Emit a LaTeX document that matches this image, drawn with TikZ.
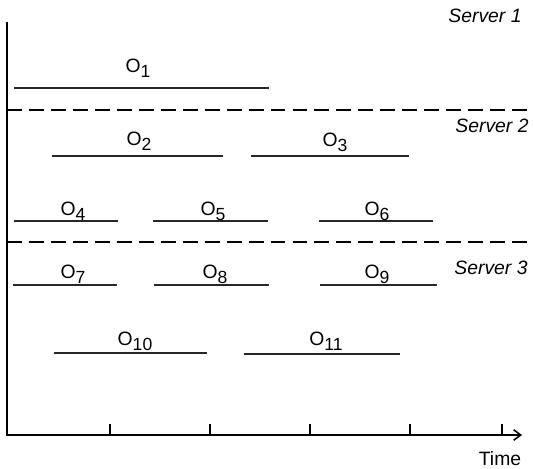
\documentclass[tikz,border=0pt]{standalone}
\usepackage{fontspec}
\setmainfont{Liberation Sans}
\usetikzlibrary{arrows.meta}

% operation label with its index set low
\newcommand{\opname}[1]{O\raisebox{-0.5ex}{\fontsize{10}{11}\selectfont#1}}

\begin{document}
\begin{tikzpicture}[
    x=0.02cm, y=-0.02cm,
    job/.style={line width=0.8pt, black!85},
    jobname/.style={anchor=base, inner sep=0pt, font=\fontsize{11}{13}\selectfont},
    server/.style={inner sep=0pt, font=\fontsize{11}{13}\selectfont\itshape},
    divider/.style={line width=0.7pt, dash pattern=on 8.5pt off 4pt},
    axis/.style={line width=0.9pt}
]
    \useasboundingbox (0,0) rectangle (533,468);

    % Axes
    \coordinate (origin) at (7,435);
    \coordinate (top) at (7,22);
    \coordinate (tend) at (522,435);
    \draw[axis, -{Straight Barb[length=4pt,width=6pt]}] (top) |- (tend);
    \foreach \t in {110,210,310,410,502}
        \draw[axis] (\t,435) -- (\t,424);
    \node[inner sep=0pt, font=\fontsize{11}{13}\selectfont] (time) at (500,459) {Time};

    % Server boundaries
    \coordinate (div1a) at (7,110);
    \coordinate (div1b) at (533,110);
    \coordinate (div2a) at (7,242);
    \coordinate (div2b) at (533,242);
    \draw[divider] (div1a) -- (div1b);
    \draw[divider] (div2a) -- (div2b);

    \node[server] (s1) at (485,16) {Server 1};
    \node[server] (s2) at (492,126) {Server 2};
    \node[server] (s3) at (491,268) {Server 3};

    % Server 1
    \draw[job] (14,88) -- (269,88);
    \node[jobname] (o1) at (138,72) {\opname{1}};

    % Server 2
    \draw[job] (52,156) -- (223,156);
    \node[jobname] (o2) at (139,145) {\opname{2}};
    \draw[job] (251,156) -- (409,156);
    \node[jobname] (o3) at (335,146) {\opname{3}};

    \draw[job] (14,221) -- (118,221);
    \node[jobname] (o4) at (73,215) {\opname{4}};
    \draw[job] (153,221) -- (268,221);
    \node[jobname] (o5) at (213,215) {\opname{5}};
    \draw[job] (319,221) -- (433,221);
    \node[jobname] (o6) at (377,215) {\opname{6}};

    % Server 3
    \draw[job] (13,285) -- (117,285);
    \node[jobname] (o7) at (73,278) {\opname{7}};
    \draw[job] (154,285) -- (269,285);
    \node[jobname] (o8) at (215,278) {\opname{8}};
    \draw[job] (320,285) -- (437,285);
    \node[jobname] (o9) at (377,278) {\opname{9}};

    \draw[job] (54,353) -- (207,353);
    \node[jobname] (o10) at (135,345) {\opname{10}};
    \draw[job] (244,354) -- (400,354);
    \node[jobname] (o11) at (326,345) {\opname{11}};
\end{tikzpicture}
\end{document}
